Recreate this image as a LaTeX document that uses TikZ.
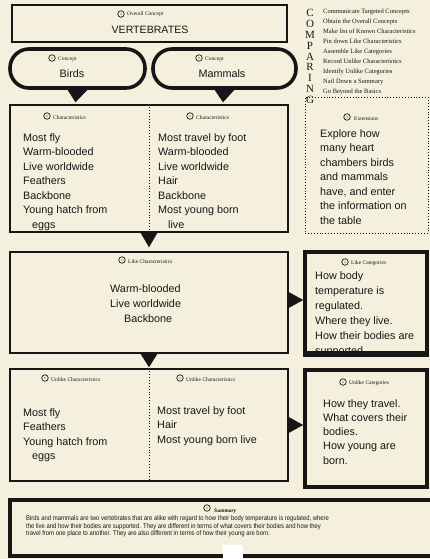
\documentclass[tikz,border=0pt]{standalone}
\usepackage{fontspec}
\setmainfont{Liberation Sans}
\newfontfamily\serifsm{Liberation Serif}
\newfontfamily\sumfont[FakeStretch=0.87]{Liberation Sans}
\usetikzlibrary{calc}
\definecolor{paper}{RGB}{245,240,222}
\definecolor{ink}{RGB}{22,22,22}
\tikzset{
  thinbox/.style={draw=ink, line width=1.4pt, inner sep=0pt},
  thickbox/.style={draw=ink, line width=3.6pt, inner sep=0pt},
  bubble/.style={draw=ink, line width=3.6pt, rounded corners=19pt, inner sep=0pt},
  dotbox/.style={draw=ink, line width=0.9pt, dotted, inner sep=0pt},
  body/.style={font=\fontsize{10.8}{14.5}\selectfont, align=left, inner sep=0pt, anchor=north west, text=ink},
  big/.style={font=\fontsize{10.6}{12}\selectfont, inner sep=0pt, text=ink},
  lab/.style={font=\serifsm\fontsize{5.5}{6}\selectfont, inner sep=0pt, anchor=west, text=ink},
  icon/.style={circle, draw=ink, line width=0.7pt, minimum size=6.5pt, inner sep=0pt,
    path picture={\fill[ink] (path picture bounding box.center) circle (0.7pt);}},
  tri/.style={fill=ink},
}
\begin{document}
\begin{tikzpicture}[x=1pt,y=-1pt]
\fill[paper] (0,0) rectangle (430,559);
\useasboundingbox (0,0) rectangle (430,559);

% boxes
\node[thinbox, minimum width=275pt, minimum height=37pt] (overall) at (149.5,23.5) {};
\node[bubble, minimum width=135pt, minimum height=39pt] (birds) at (77.5,68.5) {};
\node[bubble, minimum width=143pt, minimum height=39pt] (mammals) at (224.5,68.5) {};
\node[thinbox, minimum width=278pt, minimum height=127pt] (chars) at (149,168.5) {};
\node[dotbox, minimum width=123pt, minimum height=136pt] (ext) at (366.5,165) {};
\node[thinbox, minimum width=278pt, minimum height=101pt] (like) at (149,302.5) {};
\node[thickbox, minimum width=122pt, minimum height=101pt] (likecat) at (366,302.5) {};
\node[thinbox, minimum width=278pt, minimum height=112pt] (unlike) at (149,425) {};
\node[thickbox, minimum width=122pt, minimum height=117pt] (unlikecat) at (366,428.5) {};
\node[thickbox, minimum width=424pt, minimum height=56pt] (summary) at (222,528) {};

% dotted dividers
\draw[ink, line width=0.9pt, dotted] (chars.north) -- (chars.south);
\draw[ink, line width=0.9pt, dotted] (unlike.north) -- (unlike.south);

% triangle connectors
\fill[tri] ($(birds.south)+(-10,0)$) -- ($(birds.south)+(10,0)$) -- ($(birds.south |- chars.north)+(-2,-2)$) -- cycle;
\fill[tri] ($(mammals.south)+(-10,0)$) -- ($(mammals.south)+(10,0)$) -- ($(mammals.south |- chars.north)+(-1.5,-2)$) -- cycle;
\fill[tri] ($(chars.south)+(-8.5,0)$) -- ($(chars.south)+(8.5,0)$) -- ($(like.north)+(0,-4)$) -- cycle;
\fill[tri] ($(like.south)+(-8.5,0)$) -- ($(like.south)+(8.5,0)$) -- ($(unlike.north)+(0,-1)$) -- cycle;
\fill[tri] ($(like.east)+(0,-10.5)$) -- ($(like.east)+(0,5.5)$) -- ($(like.east -| likecat.west)+(0,-2.5)$) -- cycle;
\fill[tri] ($(unlike.east)+(0,-8)$) -- ($(unlike.east)+(0,8)$) -- (unlike.east -| unlikecat.west) -- cycle;

% white patch at bottom of summary
\fill[white] (223,545) rectangle (243,559);

% headers
\node[icon] (i1) at (121,14) {};
\node[lab] (l1) at (127,14.5) {Overall Concept};
\node[big] (vert) at (150,30) {VERTEBRATES};

\node[icon] (i2) at (52,58) {};
\node[lab] (l2) at (58,59.5) {Concept};
\node[big, font=\fontsize{10.8}{12}\selectfont] (tbirds) at (72,74) {Birds};
\node[icon] (i3) at (199,58) {};
\node[lab] (l3) at (205,59.5) {Concept};
\node[big, font=\fontsize{10.8}{12}\selectfont] (tmam) at (222,74) {Mammals};

\node[icon] (i4) at (47,116) {};
\node[lab] (l4) at (53,117.5) {Characteristics};
\node[icon] (i5) at (190,116) {};
\node[lab] (l5) at (196,117.5) {Characteristics};

\node[body] (cl) at (23,133.3) {Most fly\\Warm-blooded\\Live worldwide\\Feathers\\Backbone\\Young hatch from\\\hspace*{9pt}eggs};
\node[body] (cr) at (158,133.3) {Most travel by foot\\Warm-blooded\\Live worldwide\\Hair\\Backbone\\Most young born\\\hspace*{10pt}live};

% comparing
\node[font=\serifsm\fontsize{11}{10.9}\selectfont, align=center, inner sep=0pt, anchor=north, text=ink] (comp) at (310,9)
  {C\\O\\M\\P\\A\\R\\I\\N\\G};
\node[font=\serifsm\fontsize{6.5}{10}\selectfont, align=left, inner sep=0pt, anchor=north west, text=ink] (steps) at (323,8.3)
  {Communicate Targeted Concepts\\Obtain the Overall Concepts\\Make list of Known Characteristics\\Pin down Like Characteristics\\Assemble Like Categories\\Record Unlike Characteristics\\Identify Unlike Categories\\Nail Down a Summary\\Go Beyond the Basics};

% extensions
\node[icon] (i6) at (347,117) {};
\node[lab] (l6) at (354,119) {Extensions};
\node[body] (et) at (320,129.3) {Explore how\\many heart\\chambers birds\\and mammals\\have, and enter\\the information on\\the table};

% like characteristics
\node[icon] (i7) at (122,260) {};
\node[lab] (l7) at (128,261.5) {Like Characteristics};
\node[body, font=\fontsize{10.8}{15}\selectfont] (lt) at (110,284) {Warm-blooded\\Live worldwide\\\hspace*{14pt}Backbone};

\node[icon] (i8) at (345,262) {};
\node[lab] (l8) at (351,263.5) {Like Categories};
\node[body, font=\fontsize{10.8}{15}\selectfont] (lct) at (315,271) {How body\\temperature is\\regulated.\\Where they live.\\How their bodies are\\supported.};
\draw[ink, line width=3.6pt] (likecat.south west) -- (likecat.south east);

% unlike
\node[icon] (i9) at (45,378) {};
\node[lab] (l9) at (51,379.5) {Unlike Characteristics};
\node[icon] (i10) at (180,378) {};
\node[lab] (l10) at (186,379.5) {Unlike Characteristics};
\node[body] (ul) at (23,408) {Most fly\\Feathers\\Young hatch from\\\hspace*{9pt}eggs};
\node[body] (ur) at (157,406) {Most travel by foot\\Hair\\Most young born live};

\node[icon] (i11) at (343,382) {};
\node[lab] (l11) at (349,383.5) {Unlike Categories};
\node[body, font=\fontsize{10.8}{14.3}\selectfont] (uct) at (323,399) {How they travel.\\What covers their\\bodies.\\How young are\\born.};

% summary
\node[icon] (i12) at (207,508) {};
\node[lab, font=\serifsm\bfseries\itshape\fontsize{5.5}{6}\selectfont] (l12) at (214,511) {Summary};
\node[font=\sumfont\fontsize{6.8}{7.6}\selectfont, align=left, inner sep=0pt, anchor=north west, text=ink] (st) at (26,515.5)
  {Birds and mammals are two vertebrates that are alike with regard to how their body temperature is regulated, where\\the live and how their bodies are supported. They are different in terms of what covers their bodies and how they\\travel from one place to another. They are also different in terms of how their young are born.};
\end{tikzpicture}
\end{document}
